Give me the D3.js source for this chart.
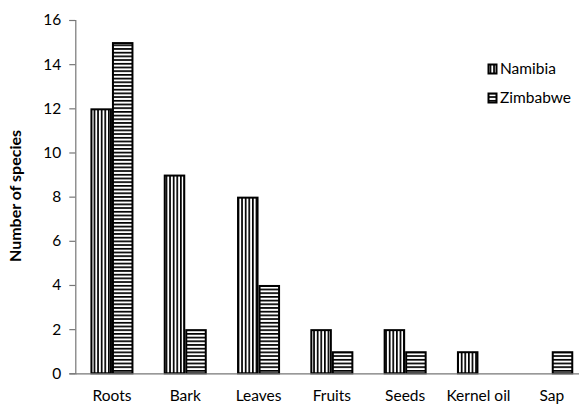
<!DOCTYPE html>
<html><head><meta charset="utf-8">
<script src="https://cdn.jsdelivr.net/npm/d3@7"></script>
<style>body{margin:0;background:#fff}svg{display:block}</style>
</head><body>
<script>
const categories = ["Roots","Bark","Leaves","Fruits","Seeds","Kernel oil","Sap"];
const seriesNames = ["Namibia","Zimbabwe"];
const namibia = [12, 9, 8, 2, 2, 1, 0];
const zimbabwe = [15, 2, 4, 1, 1, 0, 1];
const yTicks = [0,2,4,6,8,10,12,14,16];

const W = 579, H = 410;
const svg = d3.select("body").append("svg").attr("width", W).attr("height", H);
const font = "Lato, 'Open Sans', sans-serif";

const defs = svg.append("defs");
const pv = defs.append("pattern").attr("id","pv").attr("patternUnits","userSpaceOnUse")
  .attr("width",3.6).attr("height",10);
pv.append("rect").attr("width",3.6).attr("height",10).attr("fill","#fff");
pv.append("rect").attr("width",1.7).attr("height",10).attr("fill","#000");
const ph = defs.append("pattern").attr("id","ph").attr("patternUnits","userSpaceOnUse")
  .attr("width",10).attr("height",3.7);
ph.append("rect").attr("width",10).attr("height",3.7).attr("fill","#fff");
ph.append("rect").attr("width",10).attr("height",1.7).attr("fill","#000");
const fills = ["url(#pv)","url(#ph)"];

const x0 = d3.scaleBand().domain(categories).range([75.3, 75.3 + 73.3*7]).paddingInner(0.413).paddingOuter(0.2065);
const x1 = d3.scaleBand().domain(seriesNames).range([0, x0.bandwidth()]);
const y = d3.scaleLinear().domain([0,16]).range([373.3, 20]);

const data = categories.map((c,i)=>({cat:c, vals:[namibia[i], zimbabwe[i]]}));

const g = svg.append("g");
data.forEach(d=>{
  d.vals.forEach((v,j)=>{
    if (v<=0) return;
    g.append("rect")
      .attr("x", x0(d.cat) + x1(seriesNames[j]) + 1)
      .attr("y", y(v)+1)
      .attr("width", x1.bandwidth() - 2)
      .attr("height", y(0) - y(v) - 1)
      .attr("fill", fills[j])
      .attr("stroke","#000").attr("stroke-width",2);
  });
});

// y axis
const yAxis = d3.axisLeft(y).tickValues(yTicks).tickSize(6).tickPadding(8);
const ya = svg.append("g").attr("transform","translate(75.3,0)").call(yAxis);
ya.select(".domain").attr("stroke","#777").attr("stroke-width",1.2);
ya.selectAll(".tick line").attr("stroke","#777").attr("stroke-width",1.2);
ya.selectAll("text").attr("font-family",font).attr("font-size",15.5).attr("fill","#000");

// x axis
const xa = svg.append("g").attr("transform","translate(0,373.3)").call(d3.axisBottom(x0).tickSize(0).tickPadding(17));
xa.select(".domain").attr("stroke","#777").attr("stroke-width",1.2);
xa.selectAll("text").attr("font-family",font).attr("font-size",15.5).attr("fill","#000");

// y title
svg.append("text").attr("transform","translate(21,196) rotate(-90)")
  .attr("text-anchor","middle").attr("font-family",font).attr("font-size",16)
  .attr("font-weight","bold").attr("fill","#000").text("Number of species");

// legend
const lg = svg.append("g");
seriesNames.forEach((s,j)=>{
  const ly = 69 + j*29;
  lg.append("rect").attr("x",488.5).attr("y",ly-4.5).attr("width",8).attr("height",9)
    .attr("fill",fills[j]).attr("stroke","#000").attr("stroke-width",2);
  lg.append("text").attr("x",500).attr("y",ly).attr("dy","0.35em")
    .attr("font-family",font).attr("font-size",15.5).attr("fill","#000").text(s);
});
</script>
</body></html>
